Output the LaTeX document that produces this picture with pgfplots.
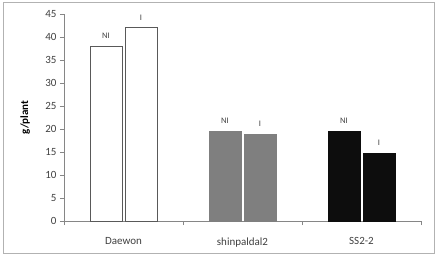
\documentclass[border=0pt]{standalone}
\usepackage{pgfplots}
\pgfplotsset{compat=1.18}
\usepackage{fontspec}
\setmainfont{Carlito}
\definecolor{axgray}{HTML}{868686}
\definecolor{txt}{HTML}{404040}
\definecolor{barborder}{HTML}{595959}
\definecolor{midgray}{HTML}{7F7F7F}
\definecolor{nearblack}{HTML}{0D0D0D}
\begin{document}
\begin{tikzpicture}
\useasboundingbox (-64pt,-36pt) rectangle (374pt,221pt);
\draw[color=black!30, line width=0.8pt] (-61pt,-32pt) rectangle (370pt,219pt);
\begin{axis}[
  at={(0,0)}, anchor=south west,
  scale only axis, width=357pt, height=207pt,
  xmin=-0.5, xmax=2.5, ymin=0, ymax=45,
  axis x line*=bottom, axis y line*=left,
  axis line style={axgray, line width=0.6pt},
  xtick={0,1,2}, xticklabels={Daewon,shinpaldal2,SS2-2},
  major x tick style={draw=none},
  minor xtick={-0.5,0.5,1.5,2.5},
  minor tick length=4pt,
  minor x tick style={axgray},
  ytick={0,5,...,45},
  major tick length=4pt,
  y tick style={axgray, line width=0.6pt},
  tick align=outside,
  tick label style={font=\fontsize{11}{13}\selectfont, text=txt},
  xticklabel style={yshift=-9pt},
  /pgf/number format/assume math mode=true,
  ylabel={\textbf{g/plant}},
  ylabel style={at={(axis description cs:-0.109,0.5)}, anchor=center, font=\fontsize{11}{13}\selectfont, text=black},
  every node near coord/.append style={font=\fontsize{8.5}{10}\selectfont, text=txt, yshift=4pt},
  bar width=32pt,
]
\addplot[ybar, bar shift=-17.5pt, fill=white, draw=barborder, line width=0.8pt, nodes near coords={NI}, every node near coord/.append style={xshift=-17.5pt}] coordinates {(0,38)};
\addplot[ybar, bar shift=17.5pt, fill=white, draw=barborder, line width=0.8pt, nodes near coords={I}, every node near coord/.append style={xshift=17.5pt}] coordinates {(0,42)};
\addplot[ybar, bar shift=-17.5pt, fill=midgray, draw=midgray, line width=0.8pt, nodes near coords={NI}, every node near coord/.append style={xshift=-17.5pt}] coordinates {(1,19.5)};
\addplot[ybar, bar shift=17.5pt, fill=midgray, draw=midgray, line width=0.8pt, nodes near coords={I}, every node near coord/.append style={xshift=17.5pt}] coordinates {(1,18.8)};
\addplot[ybar, bar shift=-17.5pt, fill=nearblack, draw=nearblack, line width=0.8pt, nodes near coords={NI}, every node near coord/.append style={xshift=-17.5pt}] coordinates {(2,19.5)};
\addplot[ybar, bar shift=17.5pt, fill=nearblack, draw=nearblack, line width=0.8pt, nodes near coords={I}, every node near coord/.append style={xshift=17.5pt}] coordinates {(2,14.8)};
\end{axis}
\end{tikzpicture}
\end{document}
